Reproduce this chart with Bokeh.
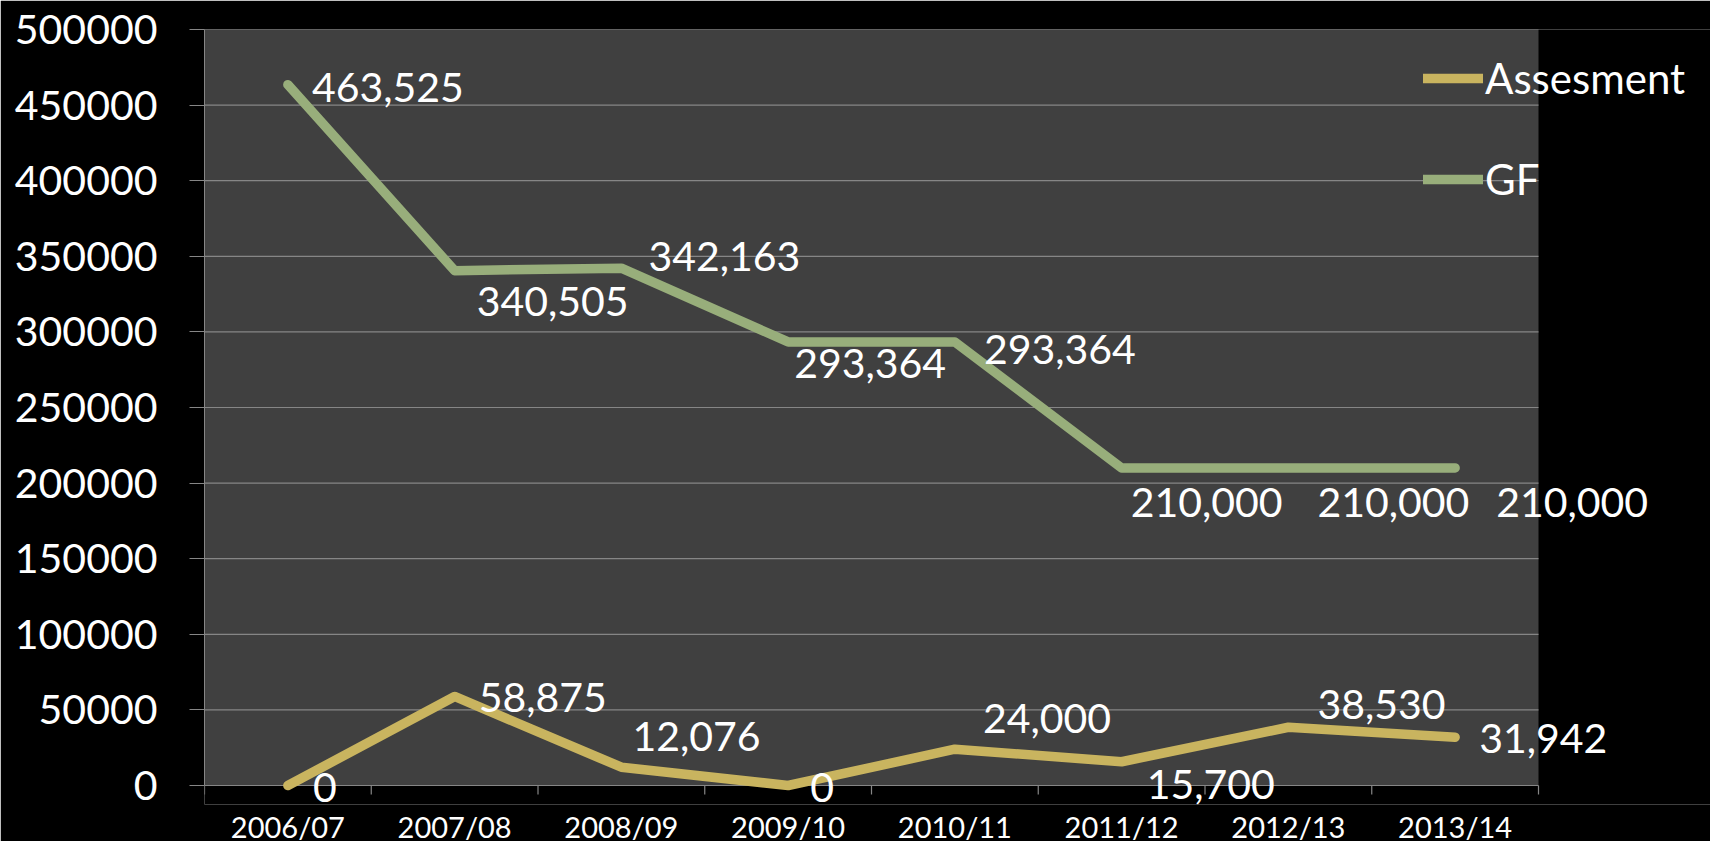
from bokeh.plotting import figure
from bokeh.models import (Range1d, FixedTicker, SingleIntervalTicker, NumeralTickFormatter,
                          Legend, LegendItem, ColumnDataSource, Label, BoxAnnotation)
from bokeh.embed import file_html
from bokeh.resources import INLINE

# ---- data ----
years = ["2006/07", "2007/08", "2008/09", "2009/10", "2010/11", "2011/12", "2012/13", "2013/14"]
assesment = [0, 58875, 12076, 0, 24000, 15700, 38530, 31942]
gf = [463525, 340505, 342163, 293364, 293364, 210000, 210000, 210000]
y_max = 500000
y_step = 50000

# ---- label placement (screen px, right/down positive) ----
gf_dx = [24, 22, 27, 6, 29, 9, 29, 41]
gf_dy = [3, 31, -12, 22, 8, 35, 35, 35]
as_dx = [25, 24, 11, 22, 28, 25, 29, 24]
as_dy = [2, 1, -31, 2, -31, 23, -23, 1]

FONT = "Lato"
GF_COLOR = "#98ae7b"
AS_COLOR = "#c9b45f"
GRID = "#868686"
AREA = "#404040"

# layout (px): plot area 1334 x 756; frame extended right and below so labels can overflow
PLOT_W, PLOT_H = 1334, 756
EXT_R, EXT_B = 172, 19
TOP, LEFT = 29, 204
FRAME_W, FRAME_H = PLOT_W + EXT_R, PLOT_H + EXT_B
TICK_PX = 9

n = len(years)
xs = [i + 0.5 for i in range(n)]
x_end = n * FRAME_W / PLOT_W
y_start = -y_max * EXT_B / PLOT_H
tick_len = y_max * TICK_PX / PLOT_H

src = ColumnDataSource(dict(x=xs, gf=gf, asm=assesment))

p = figure(frame_width=FRAME_W, frame_height=FRAME_H,
           x_range=Range1d(0, x_end), y_range=Range1d(y_start, y_max),
           output_backend="svg", toolbar_location=None,
           min_border_left=LEFT, min_border_right=0, min_border_top=TOP, min_border_bottom=37,
           background_fill_color="black", border_fill_color="black",
           outline_line_color=None)

p.add_layout(BoxAnnotation(left=0, right=n, bottom=0, top=y_max, fill_color=AREA,
                           fill_alpha=1, line_color=None, level="underlay"))

# y axis
p.yaxis.ticker = SingleIntervalTicker(interval=y_step, num_minor_ticks=0)
p.yaxis.formatter = NumeralTickFormatter(format="0")
p.yaxis.bounds = (0, y_max)
p.yaxis.major_tick_out = 15
p.yaxis.major_tick_in = 0
p.yaxis.minor_tick_line_color = None
p.yaxis.major_tick_line_color = GRID
p.yaxis.axis_line_color = GRID
p.yaxis.major_label_standoff = 32
p.yaxis.major_label_text_font = FONT
p.yaxis.major_label_text_font_size = "41px"
p.yaxis.major_label_text_color = "white"

# x axis: labels at category centres
p.xaxis.ticker = FixedTicker(ticks=xs, minor_ticks=[])
overrides = {}
for x, y in zip(xs, years):
    overrides[x] = y
    overrides[str(x)] = y
p.xaxis.major_label_overrides = overrides
p.xaxis.major_tick_line_color = None
p.xaxis.minor_tick_line_color = None
p.xaxis.major_tick_out = 0
p.xaxis.major_tick_in = 0
p.xaxis.axis_line_color = None
p.xaxis.major_label_standoff = 4
p.xaxis.major_label_text_font = FONT
p.xaxis.major_label_text_font_size = "29px"
p.xaxis.major_label_text_color = "white"

p.xgrid.grid_line_color = None
p.ygrid.grid_line_color = None

# horizontal gridlines over the plot area (incl. the zero/category axis line)
gy = list(range(0, y_max + 1, y_step))
p.segment(x0=[0] * len(gy), x1=[n] * len(gy), y0=gy, y1=gy, line_color=GRID, line_width=1.2)
# category boundary tick marks below the zero line
bx = list(range(n + 1))
p.segment(x0=bx, x1=bx, y0=[0] * len(bx), y1=[-tick_len] * len(bx), line_color=GRID,
          line_width=1.2)

r_as = p.line("x", "asm", source=src, line_color=AS_COLOR, line_width=9.5,
              line_cap="round", line_join="round")
r_gf = p.line("x", "gf", source=src, line_color=GF_COLOR, line_width=9.5,
              line_cap="round", line_join="round")

for vals, dxs, dys in ((gf, gf_dx, gf_dy), (assesment, as_dx, as_dy)):
    for x, v, dx, dy in zip(xs, vals, dxs, dys):
        p.add_layout(Label(x=x, y=v, text="{:,}".format(v), x_offset=dx, y_offset=-dy,
                           text_font=FONT, text_font_size="41px", text_color="white",
                           text_align="left", text_baseline="middle"))

legend = Legend(items=[LegendItem(label="Assesment", renderers=[r_as]),
                       LegendItem(label="GF", renderers=[r_gf])],
                location=(1219, TOP + FRAME_H - 204), padding=0, margin=0, spacing=51,
                glyph_width=60, glyph_height=50, label_height=50, label_standoff=2,
                label_text_font=FONT, label_text_font_size="42px", label_text_color="white",
                background_fill_alpha=0, border_line_color=None)
p.add_layout(legend)

open("out.html", "w").write(file_html(p, INLINE))
